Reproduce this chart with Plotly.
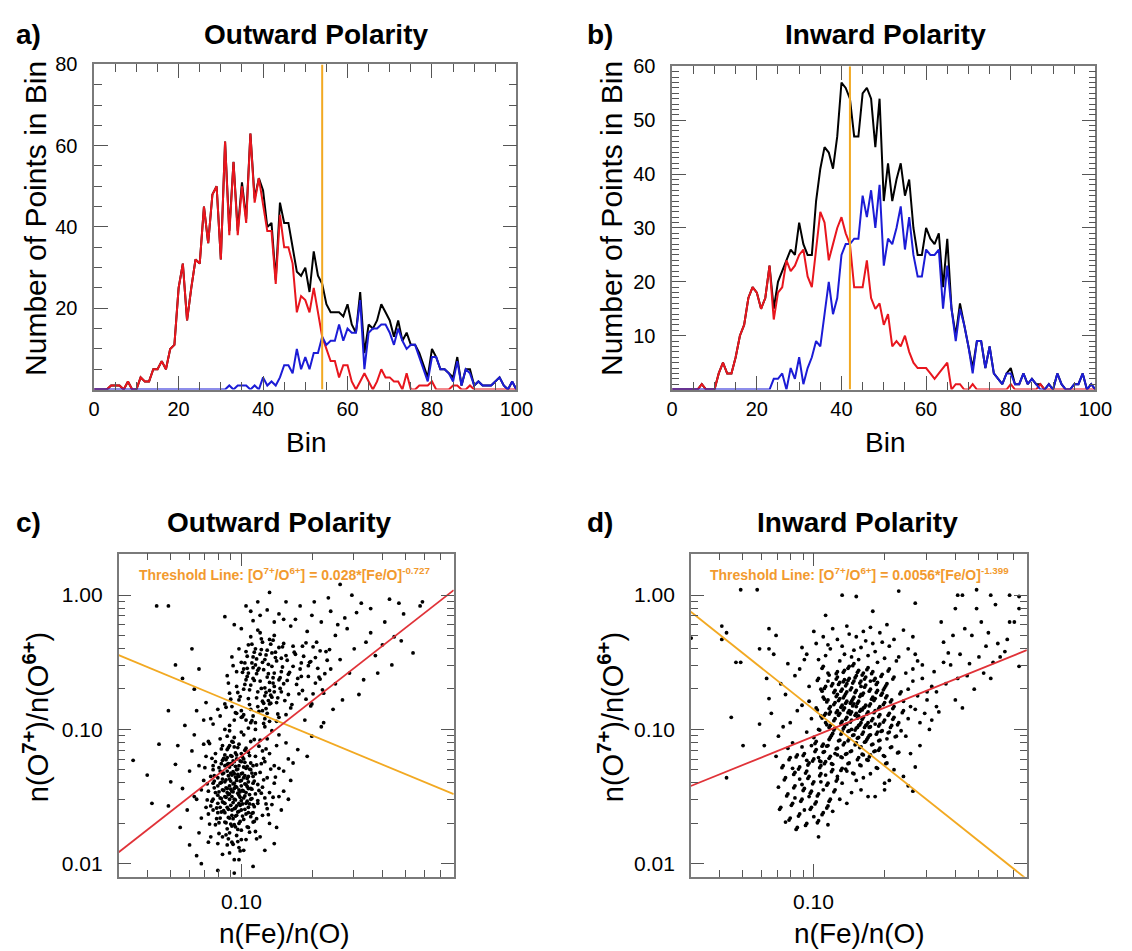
import plotly.graph_objects as go

# ---------------- DATA ----------------
bins = list(range(101))

# Panel a: Outward polarity histograms (counts per bin)
red_a = [0,0,0,0,1,1,1,0,2,0,
         0,3,2,2,5,5,7,5,10,11,
         25,31,17,25,32,31,45,36,48,50,
         32,61,38,56,38,50,41,63,46,52,
         46,39,39,26,43,35,35,31,19,23,
         22,19,25,19,13,10,7,7,3,6,
         6,2,0,2,4,2,0,2,5,3,
         3,2,2,0,4,0,0,1,1,1,
         2,0,0,0,0,1,1,0,0,1,
         0,0,0,0,0,0,0,0,0,0,
         0]
blue_a = [0,0,0,0,0,0,0,0,0,0,
          0,0,0,0,0,0,0,0,0,0,
          0,0,0,0,0,0,0,0,0,0,
          0,0,1,0,1,1,1,0,1,0,
          3,1,2,1,3,6,6,4,10,5,
          8,5,9,9,13,11,12,12,16,12,
          15,14,14,22,5,14,15,15,16,16,
          14,11,15,12,10,11,11,8,5,2,
          8,8,5,5,4,2,7,1,5,4,
          1,2,1,1,1,2,3,1,0,2,
          0]
# Panel b: Inward polarity histograms
red_b = [0,0,0,0,0,0,0,1,0,0,
         0,3,5,3,3,6,10,12,17,19,
         18,15,17,23,13,18,19,24,22,23,
         25,26,21,19,26,33,31,24,27,30,
         32,29,27,19,19,19,24,17,15,16,
         12,14,8,9,8,10,7,5,4,4,
         4,3,2,3,4,5,0,1,1,0,
         0,1,0,0,0,0,0,0,0,0,
         1,0,0,0,0,0,0,1,0,0,
         0,0,0,0,0,0,0,0,0,0,
         0]
blue_b = [0,0,0,0,0,0,0,0,0,0,
          0,0,0,0,0,0,0,0,0,0,
          0,0,0,0,2,2,3,0,4,2,
          6,1,4,6,9,8,14,20,14,17,
          25,27,27,28,28,36,32,37,30,38,
          23,28,27,30,34,26,32,25,21,21,
          26,25,25,26,15,23,15,9,15,12,
          8,3,9,9,4,8,3,2,1,3,
          3,1,1,3,1,2,1,0,0,1,
          0,3,1,0,0,1,1,3,0,1,
          0]
assert len(red_a) == len(blue_a) == len(red_b) == len(blue_b) == 101
total_a = [r + b for r, b in zip(red_a, blue_a)]
total_b = [r + b for r, b in zip(red_b, blue_b)]

threshold_bin_a = 54
threshold_bin_b = 42

# Panel c: Outward polarity scatter, (log10 Fe/O, log10 O7+/O6+)
out_pts_log = [
 (-1.05,-1.42),(-1.02,-1.38),(-0.99,-1.51),(-1.08,-1.33),(-1.01,-1.27),(-1.04,-1.60),(-0.97,-1.44),(-1.10,-1.49),(-1.06,-1.21),(-0.95,-1.35),
 (-1.03,-1.71),(-1.00,-1.18),(-1.07,-1.55),(-0.98,-1.63),(-1.12,-1.40),(-1.04,-1.09),(-0.96,-1.25),(-1.09,-1.66),(-1.01,-1.45),(-1.06,-1.31),
 (-0.99,-1.36),(-1.03,-1.52),(-1.11,-1.24),(-0.94,-1.48),(-1.05,-1.77),(-1.00,-1.02),(-1.08,-1.12),(-0.97,-1.58),(-1.13,-1.57),(-1.02,-1.30),
 (-1.06,-1.44),(-0.98,-1.14),(-1.04,-1.84),(-1.10,-1.36),(-0.95,-1.69),(-1.01,-1.61),(-1.07,-1.27),(-0.99,-1.22),(-1.03,-1.40),(-1.14,-1.46),
 (-1.00,-1.53),(-1.09,-1.58),(-0.96,-1.09),(-1.05,-1.66),(-1.02,-1.19),(-0.93,-1.41),(-1.08,-1.80),(-1.04,-1.34),(-0.97,-1.73),(-1.12,-1.30),
 (-1.01,-1.88),(-1.06,-1.05),(-0.98,-1.47),(-1.10,-1.62),(-1.03,-1.24),(-0.95,-1.56),(-1.07,-1.39),(-1.00,-1.33),(-1.05,-1.92),(-0.99,-1.04),
 (-1.11,-1.71),(-1.04,-1.50),(-0.96,-1.30),(-1.02,-1.64),(-1.08,-1.45),(-0.94,-1.20),(-1.06,-1.15),(-1.00,-1.75),(-1.13,-1.35),(-1.03,-1.97),
 (-0.97,-1.39),(-1.05,-1.28),(-1.09,-1.07),(-1.01,-1.55),(-0.98,-1.82),(-1.07,-1.69),(-1.03,-1.13),(-0.95,-1.62),(-1.12,-1.52),(-1.00,-1.42),
 (-1.04,-1.46),(-1.06,-1.58),(-0.99,-1.28),(-1.02,-1.36),(-1.08,-1.23),(-0.96,-1.52),(-1.10,-1.42),(-1.01,-1.70),(-1.05,-1.12),(-0.97,-1.17),
 (-1.03,-1.44),(-1.07,-1.50),(-1.00,-1.60),(-1.04,-1.26),(-0.98,-1.41),(-1.09,-1.31),(-1.02,-1.79),(-0.95,-1.27),(-1.06,-1.86),(-1.11,-1.18),
 (-0.93,-1.53),(-1.05,-1.37),(-1.01,-1.49),(-1.14,-1.63),(-0.99,-1.67),(-1.08,-1.93),(-1.03,-1.06),(-0.97,-1.35),(-1.10,-1.55),(-1.04,-1.72),
 (-1.00,-1.24),(-1.06,-1.47),(-0.96,-1.44),(-1.02,-1.57),(-1.07,-1.62),(-1.12,-1.27),(-0.98,-1.55),(-1.05,-1.52),(-1.01,-1.11),(-0.94,-1.76),
 (-1.09,-1.40),(-1.03,-1.33),(-0.99,-1.90),(-1.05,-1.01),(-1.13,-1.80),(-1.00,-1.38),(-1.08,-1.54),(-0.97,-1.62),(-1.04,-1.20),(-1.02,-1.43),
 (-1.06,-1.74),(-0.95,-1.40),(-1.11,-1.47),(-1.01,-1.35),(-1.07,-1.19),(-0.98,-1.29),(-1.03,-1.59),(-1.10,-1.85),(-0.96,-1.65),(-1.05,-1.48),
 (-1.02,-1.22),(-1.08,-1.37),(-1.00,-1.82),(-0.94,-1.33),(-1.04,-1.64),(-1.12,-1.60),(-0.99,-1.46),(-1.06,-1.26),(-1.01,-1.97),(-1.09,-1.51),
 (-1.035,-1.465),(-1.015,-1.335),(-0.985,-1.405),(-1.065,-1.375),(-1.025,-1.585),(-0.975,-1.275),(-1.085,-1.515),(-1.055,-1.255),(-0.995,-1.555),(-1.045,-1.195),
 (-1.005,-1.685),(-1.075,-1.605),(-0.965,-1.485),(-1.115,-1.435),(-1.035,-1.315),(-0.955,-1.625),(-1.095,-1.285),(-1.015,-1.745),(-1.055,-1.485),(-0.985,-1.155),
 (-1.025,-1.425),(-1.065,-1.695),(-0.945,-1.385),(-1.005,-1.235),(-1.085,-1.145),(-1.045,-1.565),(-0.975,-1.725),(-1.125,-1.535),(-1.015,-1.475),(-1.035,-1.855),
 (-0.995,-1.325),(-1.075,-1.455),(-1.055,-1.135),(-0.965,-1.195),(-1.025,-1.645),(-1.105,-1.665),(-0.985,-1.595),(-1.045,-1.385),(-1.005,-1.505),(-1.065,-1.225),
 (-0.935,-1.265),(-1.095,-1.775),(-1.035,-1.095),(-0.975,-1.535),(-1.015,-1.295),(-1.085,-1.395),(-0.955,-1.445),(-1.055,-1.815),(-1.025,-1.525),(-0.995,-1.645),
 (-1.045,-1.255),(-1.115,-1.345),(-0.965,-1.765),(-1.005,-1.385),(-1.075,-1.545),(-1.035,-1.665),(-0.985,-1.245),(-1.065,-1.435),(-0.945,-1.575),(-1.025,-1.175),
 (-1.095,-1.465),(-1.015,-1.615),(-0.975,-1.365),(-1.055,-1.345),(-1.035,-1.545),(-1.005,-1.905),(-1.085,-1.255),(-0.955,-1.325),(-1.045,-1.705),(-0.995,-1.455),
 (-1.125,-1.215),(-1.065,-1.785),(-1.025,-1.355),(-0.965,-1.555),(-1.015,-1.135),(-1.105,-1.585),(-0.985,-1.495),(-1.055,-1.595),(-1.035,-1.235),(-0.945,-1.685),
 (-1.075,-1.325),(-1.005,-1.565),(-1.045,-1.445),(-0.975,-1.425),(-1.095,-1.695),(-1.025,-1.275),(-1.065,-1.505),(-0.995,-1.205),(-1.015,-1.835),(-1.085,-1.615),
 (-0.955,-1.515),(-1.035,-1.405),(-1.055,-1.655),(-0.985,-1.345),(-1.115,-1.385),(-1.005,-1.465),(-1.045,-1.325),(-0.965,-1.295),(-1.075,-1.215),(-1.025,-1.725),
 (-0.925,-1.455),(-0.915,-1.255),(-0.935,-1.665),(-0.905,-1.375),(-0.925,-1.125),(-0.895,-1.555),(-0.915,-1.475),(-0.875,-1.295),(-0.935,-1.815),(-0.905,-1.215),
 (-0.945,-1.075),(-1.135,-1.105),(-1.145,-1.525),(-1.135,-1.705),(-1.155,-1.285),(-0.885,-1.635),(-0.865,-1.505),(-0.895,-1.145),(-1.145,-1.405),(-0.855,-1.355),
 (-0.92,-1.32),(-0.90,-1.51),(-0.88,-1.18),(-0.91,-1.64),(-0.86,-1.40),(-0.89,-1.07),(-0.84,-1.29),(-0.92,-1.80),(-0.87,-1.56),(-0.90,-1.24),
 (-0.82,-1.46),(-0.85,-1.12),(-0.91,-1.43),(-0.88,-1.70),(-0.80,-1.22),(-0.86,-1.85),(-0.83,-1.60),(-0.92,-1.08),(-0.89,-1.36),(-0.79,-1.38),
 (-0.87,-1.01),(-0.84,-1.50),(-0.90,-1.90),(-0.81,-1.10),(-0.88,-1.47),(-0.85,-1.73),(-0.93,-1.55),(-0.82,-1.31),(-0.78,-1.25),(-0.91,-1.16),
 (-0.86,-1.27),(-0.89,-1.59),(-0.84,-1.04),(-0.80,-1.52),(-0.76,-1.15),
 (-1.16,-1.38),(-1.19,-1.52),(-1.15,-1.20),(-1.22,-1.31),(-1.17,-1.66),(-1.25,-1.44),(-1.14,-1.09),(-1.20,-1.04),(-1.18,-1.77),(-1.23,-1.60),
 (-1.16,-0.93),(-1.28,-1.26),(-1.21,-1.16),(-1.15,-1.58),(-1.19,-0.86),(-1.26,-1.73),(-1.17,-1.45),(-1.30,-1.39),(-1.14,-1.84),(-1.24,-0.97),
 (-1.18,-1.27),(-1.22,-1.86),(-1.27,-1.12),(-1.16,-1.11),(-1.20,-1.50),(-1.31,-1.57),(-1.15,-0.80),(-1.19,-1.94),
 (-0.95,-0.62),(-0.90,-0.48),(-0.88,-0.71),(-0.99,-0.55),(-0.84,-0.39),(-0.93,-0.83),(-1.02,-0.68),(-0.86,-0.58),(-0.91,-0.35),(-0.97,-0.77),
 (-0.82,-0.66),(-0.89,-0.88),(-1.04,-0.46),(-0.94,-0.52),(-0.87,-0.43),(-0.80,-0.74),(-0.96,-0.31),(-0.92,-0.64),(-1.00,-0.86),(-0.85,-0.80),
 (-0.78,-0.53),(-0.90,-0.92),(-0.98,-0.42),(-0.83,-0.57),(-0.93,-0.72),(-1.06,-0.60),(-0.88,-0.33),(-0.81,-0.45),(-0.95,-0.90),(-0.86,-0.68),
 (-1.01,-0.78),(-0.91,-0.50),(-0.76,-0.62),(-0.97,-0.58),(-0.84,-0.91),(-0.89,-0.61),(-0.94,-0.40),(-0.79,-0.84),(-1.03,-0.93),(-0.87,-0.76),
 (-0.92,-0.28),(-0.99,-0.70),(-0.82,-0.36),(-0.85,-0.49),(-0.96,-0.85),(-0.90,-0.69),(-1.07,-0.81),(-0.77,-0.44),(-0.93,-0.56),(-0.88,-0.81),
 (-1.00,-0.50),(-0.83,-0.72),(-0.95,-0.46),(-0.80,-0.59),(-0.91,-0.79),(-0.86,-0.30),(-0.98,-0.63),(-0.74,-0.71),(-0.89,-0.41),(-1.05,-0.73),
 (-0.94,-0.95),(-0.84,-0.63),(-0.92,-0.44),(-0.81,-0.89),(-0.97,-0.37),(-0.87,-0.53),(-1.02,-0.57),(-0.78,-0.38),(-0.90,-0.75),(-0.96,-0.67),
 (-0.85,-0.94),(-0.93,-0.26),(-0.99,-0.89),(-0.83,-0.47),(-0.88,-0.65),(-0.75,-0.55),(-1.01,-0.40),(-0.91,-0.86),(-0.86,-0.72),(-0.95,-0.54),
 (-0.945,-0.635),(-0.905,-0.555),(-0.875,-0.745),(-0.985,-0.505),(-0.855,-0.425),(-0.925,-0.865),(-1.015,-0.725),(-0.865,-0.615),(-0.915,-0.405),(-0.965,-0.815),
 (-0.835,-0.695),(-0.895,-0.845),(-1.035,-0.525),(-0.935,-0.475),(-0.885,-0.515),(-0.815,-0.785),(-0.955,-0.365),(-0.915,-0.695),(-0.995,-0.905),(-0.845,-0.765),
 (-0.795,-0.575),(-0.905,-0.955),(-0.975,-0.455),(-0.825,-0.535),(-0.935,-0.765),(-1.055,-0.655),(-0.875,-0.365),(-0.805,-0.485),(-0.955,-0.935),(-0.865,-0.655),
 (-1.005,-0.755),(-0.925,-0.545),(-0.765,-0.665),(-0.975,-0.605),(-0.845,-0.885),(-0.885,-0.585),(-0.945,-0.425),(-0.785,-0.815),(-1.025,-0.875),(-0.875,-0.805),
 (-0.915,-0.325),(-0.985,-0.665),(-0.825,-0.385),(-0.855,-0.465),(-0.965,-0.705),(-0.895,-0.725),(-1.065,-0.835),(-0.775,-0.425),(-0.935,-0.585),(-0.885,-0.785),
 (-0.995,-0.575),(-0.835,-0.615),(-0.955,-0.505),(-0.805,-0.635),(-0.905,-0.805),(-0.865,-0.335),(-0.975,-0.545),(-0.745,-0.505),(-0.895,-0.445),(-1.045,-0.775),
 (-0.735,-0.455),(-0.715,-0.605),(-0.695,-0.385),(-0.675,-0.545),(-0.655,-0.705),(-0.725,-0.775),(-0.705,-0.495),(-0.685,-0.655),(-0.665,-0.415),(-0.645,-0.585),
 (-0.745,-0.605),(-0.725,-0.355),(-0.705,-0.825),(-0.685,-0.465),(-0.635,-0.485),(-0.755,-0.735),(-0.715,-0.525),(-0.695,-0.735),(-0.665,-0.625),(-0.625,-0.405),
 (-1.05,-0.97),(-0.98,-0.93),(-1.09,-0.90),(-0.94,-1.00),(-1.02,-0.88),(-1.12,-0.96),(-0.90,-0.98),(-1.07,-1.00),(-0.96,-0.95),(-1.00,-0.91),
 (-1.10,-0.85),(-0.88,-0.94),(-1.04,-0.83),(-0.97,-0.99),(-1.13,-0.92),
 (-0.58,0.08),(-0.53,0.00),(-0.49,-0.06),(-0.45,-0.10),(-0.37,-0.03),(-0.33,-0.06),(-0.24,-0.08),(-0.23,-0.05),(-0.31,-0.14),(-0.27,-0.43),
 (-0.32,-0.34),(-0.40,-0.37),(-0.35,-0.31),(-0.48,-0.63),(-0.50,-0.74),(-0.57,-0.78),(-0.62,-0.12),(-0.66,-0.20),(-0.70,-0.15),(-0.60,-0.30),
 (-0.55,-0.25),(-0.64,-0.42),(-0.68,-0.35),(-0.72,-0.27),(-0.58,-0.48),(-0.52,-0.40),(-0.45,-0.28),(-0.62,-0.55),(-0.67,-0.61),(-0.71,-0.50),
 (-0.60,-0.66),(-0.54,-0.58),(-0.43,-0.45),(-0.39,-0.20),(-0.65,-0.73),(-0.70,-0.81),(-0.74,-0.38),(-0.56,-0.17),(-0.47,-0.35),(-0.69,-0.05),
 (-0.61,-0.85),(-0.73,-0.93),(-0.66,-0.98),(-0.59,-0.22),(-0.42,-0.58),(-0.51,-0.13),(-0.63,-0.02),(-0.77,-0.18),(-0.75,-0.08),(-0.36,-0.52),
 (-0.98,-0.08),(-0.92,-0.15),(-0.86,-0.20),(-1.03,-0.22),(-0.81,-0.05),(-0.89,-0.11),(-0.95,-0.19),(-0.84,-0.14),(-0.79,-0.23),(-1.07,-0.16),
 (-0.88,0.02),(-0.93,-0.05),(-1.00,-0.25),(-0.82,-0.18),(-0.96,-0.12),
 (-1.46,-1.23),(-1.40,-1.34),(-1.35,-1.11),(-1.31,-0.86),(-1.36,-0.08),(-1.31,-0.08),(-1.21,-0.40),(-1.18,-0.55),(-1.28,-0.52),(-1.25,-0.62),
 (-1.10,-2.05),(-1.03,-2.07),(-0.95,-2.02),(-1.17,-2.00),(-0.70,-1.05),(-0.72,-1.20),(-0.65,-0.95),(-1.38,-1.55),(-1.20,-0.70),
]

# Panel d: Inward polarity scatter, (log10 Fe/O, log10 O7+/O6+)
in_pts_log = [
 (-0.84,-0.93),(-0.80,-0.85),(-0.88,-1.02),(-0.76,-0.98),(-0.91,-0.80),(-0.82,-1.10),(-0.86,-0.72),(-0.72,-0.89),(-0.95,-0.95),(-0.79,-1.19),
 (-0.87,-0.63),(-0.74,-0.77),(-0.90,-1.14),(-0.83,-0.81),(-0.68,-1.02),(-0.97,-0.70),(-0.78,-0.67),(-0.85,-1.25),(-0.71,-0.59),(-0.93,-1.06),
 (-0.81,-0.97),(-0.89,-0.88),(-0.75,-1.11),(-0.66,-0.83),(-0.99,-0.84),(-0.77,-0.54),(-0.86,-1.31),(-0.70,-1.20),(-0.92,-0.66),(-0.83,-0.76),
 (-0.79,-0.91),(-0.87,-0.98),(-0.73,-0.71),(-0.64,-0.95),(-0.96,-1.17),(-0.82,-0.60),(-0.90,-0.74),(-0.76,-1.04),(-0.69,-0.66),(-0.85,-0.86),
 (-0.94,-0.58),(-0.80,-1.27),(-0.72,-0.96),(-0.88,-1.21),(-0.78,-0.82),(-0.67,-1.13),(-0.84,-0.69),(-0.98,-1.00),(-0.74,-0.62),(-0.91,-0.92),
 (-0.81,-1.06),(-0.86,-0.79),(-0.70,-0.80),(-0.77,-1.23),(-0.93,-0.83),(-0.63,-0.72),(-0.83,-0.51),(-0.89,-1.08),(-0.75,-0.92),(-0.80,-0.74),
 (-0.87,-0.56),(-0.96,-0.76),(-0.72,-1.08),(-0.78,-0.97),(-0.84,-1.16),(-0.68,-0.88),(-0.92,-1.26),(-0.82,-0.88),(-0.76,-0.70),(-0.88,-0.94),
 (-0.65,-1.05),(-0.97,-0.90),(-0.79,-0.58),(-0.85,-1.01),(-0.73,-1.29),(-0.90,-0.61),(-0.81,-0.79),(-0.69,-0.75),(-0.86,-0.66),(-0.94,-1.12),
 (-0.77,-0.87),(-0.83,-1.33),(-0.71,-1.01),(-0.89,-0.77),(-0.80,-0.64),(-0.66,-0.61),(-0.95,-0.68),(-0.74,-1.16),(-0.87,-0.84),(-0.82,-0.99),
 (-0.78,-1.09),(-0.91,-0.99),(-0.70,-0.93),(-0.85,-0.53),(-0.76,-0.81),(-0.62,-0.86),(-0.93,-0.87),(-0.80,-1.13),(-0.88,-0.70),(-0.73,-0.65),
 (-0.84,-0.79),(-0.97,-1.24),(-0.67,-0.97),(-0.79,-0.73),(-0.86,-1.18),(-0.72,-0.83),(-0.90,-0.57),(-0.81,-0.90),(-0.75,-0.57),(-0.98,-0.62),
 (-0.83,-1.04),(-0.69,-1.25),(-0.88,-0.82),(-0.77,-0.95),(-0.92,-1.03),(-0.64,-1.17),(-0.85,-0.62),(-0.79,-1.02),(-0.71,-0.73),(-0.94,-0.78),
 (-0.82,-0.71),(-0.87,-1.10),(-0.74,-0.86),(-0.68,-0.55),(-0.90,-0.86),(-0.80,-0.95),(-0.96,-0.53),(-0.76,-1.19),(-0.84,-0.87),(-0.73,-1.02),
 (-0.89,-0.65),(-0.78,-0.61),(-0.66,-0.91),(-0.93,-0.97),(-0.81,-1.21),(-0.86,-0.91),(-0.70,-0.69),(-0.99,-1.09),(-0.83,-0.64),(-0.75,-0.76),
 (-0.88,-1.29),(-0.79,-0.84),(-0.72,-1.14),(-0.91,-0.71),(-0.85,-1.07),(-0.67,-0.78),(-0.95,-0.88),(-0.81,-0.56),(-0.77,-1.06),(-0.87,-0.75),
 (-0.63,-1.01),(-0.82,-0.83),(-0.74,-0.96),(-0.90,-1.19),(-0.80,-0.68),(-0.69,-1.07),(-0.94,-0.64),(-0.84,-1.00),(-0.76,-0.64),(-0.86,-0.96),
 (-0.845,-0.945),(-0.805,-0.865),(-0.885,-1.035),(-0.765,-0.985),(-0.915,-0.815),(-0.825,-1.115),(-0.865,-0.735),(-0.725,-0.905),(-0.945,-0.965),(-0.795,-1.185),
 (-0.875,-0.645),(-0.745,-0.785),(-0.905,-1.145),(-0.835,-0.825),(-0.685,-1.025),(-0.965,-0.715),(-0.785,-0.685),(-0.855,-1.255),(-0.715,-0.605),(-0.935,-1.075),
 (-0.815,-0.985),(-0.895,-0.895),(-0.755,-1.115),(-0.665,-0.845),(-0.985,-0.855),(-0.775,-0.555),(-0.865,-1.295),(-0.705,-1.195),(-0.925,-0.675),(-0.835,-0.775),
 (-0.795,-0.925),(-0.875,-0.995),(-0.735,-0.725),(-0.645,-0.965),(-0.955,-1.165),(-0.825,-0.615),(-0.905,-0.755),(-0.765,-1.045),(-0.695,-0.675),(-0.855,-0.875),
 (-0.935,-0.595),(-0.805,-1.265),(-0.725,-0.975),(-0.885,-1.205),(-0.785,-0.835),(-0.675,-1.135),(-0.845,-0.705),(-0.975,-1.005),(-0.745,-0.635),(-0.915,-0.935),
 (-0.815,-1.065),(-0.865,-0.805),(-0.705,-0.815),(-0.775,-1.225),(-0.935,-0.845),(-0.635,-0.735),(-0.835,-0.525),(-0.895,-1.085),(-0.755,-0.935),(-0.805,-0.755),
 (-0.875,-0.575),(-0.955,-0.775),(-0.725,-1.085),(-0.785,-0.985),(-0.845,-1.165),(-0.685,-0.895),(-0.925,-1.255),(-0.825,-0.895),(-0.765,-0.715),(-0.885,-0.955),
 (-0.655,-1.055),(-0.965,-0.915),(-0.795,-0.595),(-0.855,-1.015),(-0.735,-1.285),(-0.905,-0.625),(-0.815,-0.805),(-0.695,-0.765),(-0.865,-0.675),(-0.945,-1.125),
 (-0.775,-0.885),(-0.835,-1.325),(-0.715,-1.015),(-0.895,-0.785),(-0.805,-0.655),(-0.665,-0.625),(-0.955,-0.695),(-0.745,-1.165),(-0.875,-0.855),(-0.825,-1.005),
 (-0.785,-1.095),(-0.915,-1.005),(-0.705,-0.945),(-0.855,-0.545),(-0.765,-0.825),(-0.625,-0.875),(-0.935,-0.885),(-0.805,-1.135),(-0.885,-0.715),(-0.735,-0.665),
 (-0.845,-0.805),(-0.975,-1.235),(-0.675,-0.985),(-0.795,-0.745),(-0.865,-1.185),(-0.725,-0.845),(-0.905,-0.585),(-0.815,-0.915),(-0.755,-0.585),(-0.985,-0.635),
 (-0.835,-1.045),(-0.695,-1.255),(-0.885,-0.835),(-0.775,-0.965),(-0.925,-1.045),(-0.645,-1.175),(-0.855,-0.635),(-0.795,-1.035),(-0.715,-0.745),(-0.945,-0.795),
 (-0.825,-0.725),(-0.875,-1.115),(-0.745,-0.875),(-0.685,-0.565),(-0.905,-0.875),(-0.805,-0.965),(-0.965,-0.545),(-0.765,-1.205),(-0.845,-0.885),(-0.735,-1.035),
 (-0.895,-0.665),(-0.785,-0.625),(-0.665,-0.925),(-0.935,-0.985),(-0.815,-1.225),(-0.865,-0.925),(-0.705,-0.705),(-0.995,-1.105),(-0.835,-0.655),(-0.755,-0.775),
 (-0.885,-1.305),(-0.795,-0.855),(-0.725,-1.155),(-0.915,-0.725),(-0.855,-1.085),(-0.675,-0.795),(-0.955,-0.895),(-0.815,-0.575),(-0.775,-1.075),(-0.875,-0.765),
 (-1.02,-1.35),(-0.98,-1.48),(-1.06,-1.28),(-0.94,-1.40),(-1.09,-1.55),(-1.00,-1.22),(-0.96,-1.62),(-1.04,-1.44),(-1.12,-1.36),(-0.92,-1.30),
 (-1.01,-1.58),(-1.07,-1.19),(-0.97,-1.33),(-1.10,-1.66),(-0.93,-1.52),(-1.03,-1.70),(-0.99,-1.15),(-1.08,-1.42),(-0.95,-1.24),(-1.05,-1.52),
 (-1.13,-1.27),(-0.91,-1.45),(-1.00,-1.39),(-1.06,-1.63),(-0.96,-1.11),(-1.11,-1.48),(-1.02,-1.25),(-0.94,-1.57),(-1.08,-1.32),(-0.98,-1.68),
 (-1.04,-1.18),(-0.90,-1.37),(-1.14,-1.58),(-1.01,-1.46),(-0.97,-1.27),(-1.07,-1.73),(-0.93,-1.20),(-1.03,-1.31),(-1.10,-1.21),(-0.99,-1.54),
 (-1.05,-1.41),(-0.95,-1.34),(-1.12,-1.69),(-1.00,-1.65),(-0.92,-1.61),(-1.06,-1.37),(-0.98,-1.21),(-1.09,-1.29),(-1.02,-1.50),(-0.89,-1.52),
 (-1.15,-1.43),(-0.96,-1.45),(-1.04,-1.60),(-1.01,-1.12),(-0.94,-1.71),(-1.08,-1.51),(-0.97,-1.39),(-1.11,-1.14),(-1.03,-1.23),(-0.91,-1.18),
 (-1.025,-1.365),(-0.985,-1.495),(-1.065,-1.295),(-0.945,-1.415),(-1.095,-1.565),(-1.005,-1.235),(-0.965,-1.635),(-1.045,-1.455),(-1.125,-1.375),(-0.925,-1.315),
 (-1.015,-1.595),(-1.075,-1.205),(-0.975,-1.345),(-1.105,-1.675),(-0.935,-1.535),(-1.035,-1.715),(-0.995,-1.165),(-1.085,-1.435),(-0.955,-1.255),(-1.055,-1.535),
 (-1.135,-1.285),(-0.915,-1.465),(-1.005,-1.405),(-1.065,-1.645),(-0.965,-1.125),(-1.115,-1.495),(-1.025,-1.265),(-0.945,-1.585),(-1.085,-1.335),(-0.985,-1.695),
 (-1.045,-1.195),(-0.905,-1.385),(-1.145,-1.595),(-1.015,-1.475),(-0.975,-1.285),(-1.075,-1.745),(-0.935,-1.215),(-1.035,-1.325),(-1.105,-1.225),(-0.995,-1.555),
 (-0.95,-0.45),(-0.88,-0.38),(-0.81,-0.48),(-0.74,-0.42),(-0.66,-0.33),(-0.99,-0.36),(-0.85,-0.29),(-0.70,-0.47),(-0.92,-0.25),(-0.78,-0.34),
 (-0.60,-0.40),(-1.03,-0.44),(-0.83,-0.41),(-0.72,-0.28),(-0.89,-0.49),(-0.64,-0.46),(-0.96,-0.31),(-0.76,-0.24),(-0.87,-0.44),(-0.68,-0.38),
 (-0.58,-0.31),(-0.80,-0.39),(-0.93,-0.40),(-0.73,-0.50),(-1.00,-0.27),(-0.84,-0.46),(-0.62,-0.26),(-0.77,-0.45),(-0.90,-0.33),(-0.69,-0.22),
 (-0.86,-0.23),(-0.57,-0.44),(-0.98,-0.48),(-0.75,-0.36),(-0.82,-0.31),(-0.65,-0.49),(-0.94,-0.37),(-0.71,-0.35),(-1.05,-0.39),(-0.79,-0.27),
 (-0.60,-0.70),(-0.57,-0.85),(-0.54,-0.62),(-0.61,-1.05),(-0.52,-0.78),(-0.58,-0.55),(-0.55,-0.95),(-0.50,-0.68),(-0.59,-1.18),(-0.53,-0.88),
 (-0.56,-0.49),(-0.62,-0.79),(-0.51,-1.00),(-0.58,-0.64),(-0.49,-0.57),(-0.55,-1.12),(-0.60,-0.92),(-0.52,-0.72),(-0.57,-1.28),(-0.48,-0.83),
 (-0.54,-0.52),(-0.61,-0.58),(-0.50,-0.93),(-0.56,-0.75),(-0.59,-0.83),
 (-0.40,-0.10),(-0.31,-0.10),(-0.22,-0.36),(-0.17,-0.20),(-0.15,-0.20),(-0.13,-0.53),(-0.13,-0.10),(-0.45,-0.35),(-0.42,-0.52),(-0.38,-0.44),
 (-0.35,-0.60),(-0.30,-0.46),(-0.27,-0.38),(-0.24,-0.50),(-0.19,-0.42),(-0.44,-0.66),(-0.40,-0.78),(-0.33,-0.30),(-0.46,-0.20),(-0.36,-0.25),
 (-0.28,-0.58),(-0.21,-0.46),(-0.47,-0.87),(-0.43,-0.43),(-0.39,-0.62),(-0.34,-0.51),(-0.26,-0.28),(-0.18,-0.33),(-0.32,-0.70),(-0.45,-0.50),
 (-0.41,-0.30),(-0.37,-0.84),(-0.25,-0.62),(-0.48,-0.72),(-0.29,-0.20),
 (-1.10,-0.95),(-1.05,-0.82),(-1.15,-1.05),(-1.02,-0.68),(-1.08,-0.60),(-1.18,-0.88),(-1.03,-1.02),(-1.12,-0.74),(-1.21,-1.12),(-1.06,-0.55),
 (-1.01,-0.92),(-1.14,-0.66),(-1.09,-1.10),(-1.19,-0.77),(-1.04,-0.48),(-1.23,-0.96),(-1.07,-0.86),(-1.16,-1.20),(-1.11,-0.51),(-1.00,-1.06),
 (-1.13,-0.98),(-1.20,-0.62),(-1.05,-1.13),(-1.17,-0.44),(-1.02,-0.79),
 (-0.82,-1.38),(-0.76,-1.33),(-0.70,-1.45),(-0.66,-1.30),(-0.88,-1.40),(-0.62,-1.35),(-0.74,-1.50),(-0.84,-1.47),(-0.79,-1.36),(-0.68,-1.38),
 (-0.58,-1.46),(-0.90,-1.35),
 (-1.31,0.04),(-1.24,0.04),(-0.88,0.00),(-0.82,-0.01),(-0.64,0.03),(-0.57,-0.06),(-0.39,0.00),(-0.37,0.00),(-0.31,0.04),(-0.25,0.00),
 (-0.17,0.00),(-0.23,-0.07),(-0.13,-0.01),(-1.39,-0.23),(-1.37,-0.28),(-1.39,-0.33),(-1.33,-0.50),(-1.31,-0.50),(-1.23,-0.40),(-1.35,-0.91),
 (-1.30,-1.12),(-1.37,-1.36),(-1.52,-0.32),(-1.19,-0.25),(-1.19,-0.40),(-1.16,-0.30),(-0.75,-0.12),(-0.95,-0.15),(-0.70,-1.40),(-0.80,-1.45),
 (-0.60,-1.42),(-0.98,-1.80),(-0.86,-1.55),(-0.77,-1.50),
]

# Power-law lines y = coef * x**expo
threshold_out = (0.028, -0.727)
threshold_in = (0.0056, -1.399)
fit_out = (1.48, 1.37)
fit_in = (0.456, 0.71)

fe_range_log = [-1.5215, -0.097]
o76_range_log = [-2.098, 0.309]

# ---------------- STYLE ----------------
W, H = 1132, 951
FONT = "Liberation Sans, Arial, Helvetica, sans-serif"
AXC = "#7a7a7a"
TKC = "#555555"
RED = "#e8161e"
BLUE = "#1c1cd6"
ORANGE = "#f2a922"
FITRED = "#e03238"
TXTOR = "#f29a2e"


def fx(p):
    return p / W


def fy(p):
    return 1 - p / H


fig = go.Figure()

# histograms
for tot, red, blue, thr, xa, ya, ymax in [
    (total_a, red_a, blue_a, threshold_bin_a, "x", "y", 80),
    (total_b, red_b, blue_b, threshold_bin_b, "x2", "y2", 60),
]:
    fig.add_trace(go.Scatter(x=bins, y=tot, mode="lines", line=dict(color="black", width=2),
                             xaxis=xa, yaxis=ya, showlegend=False, hoverinfo="skip"))
    fig.add_trace(go.Scatter(x=bins, y=red, mode="lines", line=dict(color=RED, width=2),
                             xaxis=xa, yaxis=ya, showlegend=False, hoverinfo="skip"))
    fig.add_trace(go.Scatter(x=bins, y=blue, mode="lines", line=dict(color=BLUE, width=2),
                             xaxis=xa, yaxis=ya, showlegend=False, hoverinfo="skip"))
    fig.add_trace(go.Scatter(x=[thr, thr], y=[0, ymax], mode="lines", line=dict(color=ORANGE, width=2),
                             xaxis=xa, yaxis=ya, showlegend=False, hoverinfo="skip"))

# scatters
xends = [10 ** fe_range_log[0], 10 ** fe_range_log[1]]
for pts, thr, fit, xa, ya in [
    (out_pts_log, threshold_out, fit_out, "x3", "y3"),
    (in_pts_log, threshold_in, fit_in, "x4", "y4"),
]:
    fig.add_trace(go.Scatter(x=[10 ** p[0] for p in pts], y=[10 ** p[1] for p in pts], mode="markers",
                             marker=dict(color="black", size=3.8, line=dict(width=0)),
                             xaxis=xa, yaxis=ya, showlegend=False, hoverinfo="skip"))
    fig.add_trace(go.Scatter(x=xends, y=[thr[0] * v ** thr[1] for v in xends], mode="lines",
                             line=dict(color=ORANGE, width=1.8), xaxis=xa, yaxis=ya,
                             showlegend=False, hoverinfo="skip"))
    fig.add_trace(go.Scatter(x=xends, y=[fit[0] * v ** fit[1] for v in xends], mode="lines",
                             line=dict(color=FITRED, width=1.8), xaxis=xa, yaxis=ya,
                             showlegend=False, hoverinfo="skip"))

common = dict(showline=True, linecolor=AXC, linewidth=1.5, mirror="ticks", ticks="inside",
              tickcolor=TKC, tickwidth=1.3, showgrid=False, zeroline=False)

def lin_x(domain):
    return dict(common, domain=domain, range=[0, 100], tickmode="array",
                tickvals=[0, 20, 40, 60, 80, 100], ticklen=14, ticklabelstandoff=1,
                tickfont=dict(family=FONT, size=20, color="black"),
                minor=dict(dtick=5, tick0=0, ticks="inside", ticklen=8, tickcolor=TKC, tickwidth=1.3, showgrid=False))

def log_x(domain, anchor):
    return dict(common, domain=domain, type="log", range=fe_range_log, tickmode="array",
                tickvals=[0.1], ticklen=13, anchor=anchor, showticklabels=False,
                minor=dict(tickmode="array", tickvals=[0.04, 0.05, 0.06, 0.07, 0.08, 0.09, 0.2, 0.3, 0.4, 0.5, 0.6, 0.7, 0.8],
                           ticks="inside", ticklen=7, tickcolor=TKC, tickwidth=1.3, showgrid=False))

def log_y(domain, anchor):
    return dict(common, domain=domain, type="log", range=o76_range_log, tickmode="array",
                tickvals=[0.01, 0.1, 1], ticktext=["0.01", "0.10", "1.00"], ticklen=13, anchor=anchor,
                ticklabelstandoff=10,
                tickfont=dict(family=FONT, size=21, color="black"),
                minor=dict(tickmode="array", tickvals=[0.02, 0.03, 0.04, 0.05, 0.06, 0.07, 0.08, 0.09,
                                                        0.2, 0.3, 0.4, 0.5, 0.6, 0.7, 0.8, 0.9],
                           ticks="inside", ticklen=7, tickcolor=TKC, tickwidth=1.3, showgrid=False))

ya_dom = [fy(383), fy(54)]
yb_dom = [fy(383), fy(56)]
ycd_dom = [fy(876), fy(549)]

layout = dict(
    width=W, height=H, margin=dict(l=0, r=0, t=0, b=0),
    paper_bgcolor="white", plot_bgcolor="white",
    font=dict(family=FONT, color="black"),
    xaxis=dict(lin_x([fx(90), fx(521)]), anchor="y"),
    yaxis=dict(common, domain=ya_dom, range=[0, 80], tickmode="array", tickvals=[20, 40, 60, 80],
               ticklen=14, anchor="x", ticklabelstandoff=11, tickfont=dict(family=FONT, size=20, color="black"),
               minor=dict(dtick=5, tick0=0, ticks="inside", ticklen=8, tickcolor=TKC, tickwidth=1.3, showgrid=False)),
    xaxis2=dict(lin_x([fx(680), fx(1112)]), anchor="y2"),
    yaxis2=dict(common, domain=yb_dom, range=[0, 60], tickmode="array", tickvals=[10, 20, 30, 40, 50, 60],
                ticklen=14, anchor="x2", ticklabelstandoff=11, tickfont=dict(family=FONT, size=20, color="black"),
                minor=dict(dtick=1, tick0=0, ticks="inside", ticklen=7, tickcolor=TKC, tickwidth=1.2, showgrid=False)),
    xaxis3=log_x([fx(115), fx(457)], "y3"),
    yaxis3=log_y(ycd_dom, "x3"),
    xaxis4=log_x([fx(699), fx(1042)], "y4"),
    yaxis4=log_y(ycd_dom, "x4"),
)
fig.update_layout(**layout)

ann = []

def text(x, y, s, size, angle=0, color="black"):
    ann.append(dict(x=fx(x), y=fy(y), xref="paper", yref="paper", text=s, showarrow=False,
                    xanchor="center", yanchor="middle", textangle=angle,
                    font=dict(family=FONT, size=size, color=color)))

# panel labels & titles
text(23, 24, "<b>a)</b>", 28)
text(316, 24, "<b>Outward Polarity</b>", 28)
text(606, 24, "<b>b)</b>", 28)
text(898, 24, "<b>Inward Polarity</b>", 28)
text(23, 517, "<b>c)</b>", 28)
text(279, 517, "<b>Outward Polarity</b>", 28)
text(606, 517, "<b>d)</b>", 28)
text(869, 517, "<b>Inward Polarity</b>", 28)

# axis titles
text(306, 437, "Bin", 28)
text(897, 437, "Bin", 28)
text(30, 210, "Number of Points in Bin", 30, angle=-90)
text(618, 210, "Number of Points in Bin", 30, angle=-90)
text(284, 933, "n(Fe)/n(O)", 28)
text(871, 933, "n(Fe)/n(O)", 28)
ylab = "n(O<sup><b>7+</b></sup>)/n(O<sup><b>6+</b></sup>)"
text(30, 714, ylab, 29, angle=-90)
text(617, 714, ylab, 29, angle=-90)

# log-axis tick label "0.10" placed at x = 0.1 through the axis itself
for xr in ["x3", "x4"]:
    ann.append(dict(x=-1, xref=xr, y=fy(901), yref="paper", text="0.10", showarrow=False,
                    xanchor="center", yanchor="middle", font=dict(family=FONT, size=21, color="black")))

# threshold annotations
text(284, 570, "<b>Threshold Line: [O<sup>7+</sup>/O<sup>6+</sup>] = 0.028*[Fe/O]<sup>-0.727</sup></b>", 14, color=TXTOR)
text(871, 570, "<b>Threshold Line: [O<sup>7+</sup>/O<sup>6+</sup>] = 0.0056*[Fe/O]<sup>-1.399</sup></b>", 14, color=TXTOR)

fig.update_layout(annotations=ann)
fig.write_html("out.html")
